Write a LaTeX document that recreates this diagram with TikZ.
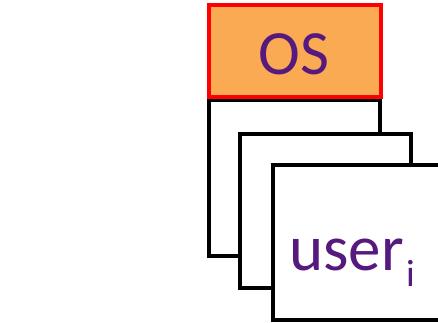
\documentclass[tikz,border=0pt]{standalone}
\usepackage{fontspec}
\setmainfont{Carlito}
\definecolor{osfill}{RGB}{250,170,82}
\definecolor{labelpurple}{RGB}{86,26,126}
\begin{document}
\begin{tikzpicture}[x=1pt,y=-1pt,
  frame/.style={draw=black,line width=4.6pt,fill=white},
  osbox/.style={draw=red,line width=4.6pt,fill=osfill},
  lbl/.style={text=labelpurple,inner sep=0pt}]
\useasboundingbox (0,0) rectangle (438,323);
\begin{scope}
\clip (0,0) rectangle (438,323);
% stacked user address spaces, back to front
\draw[frame] (209,100) rectangle (380,256);
\draw[frame] (240,134) rectangle (411,288);
\draw[frame] (273,165) rectangle (460,320);
% operating system region on top
\draw[osbox] (209,5) rectangle (381,97);
\end{scope}
\node[lbl,anchor=base,font=\fontsize{63}{63}\selectfont] (os) at (294,75) {OS};
\node[lbl,anchor=base west,font=\fontsize{65}{65}\selectfont] (user) at (289,270) {user};
\node[lbl,anchor=base west,font=\fontsize{38}{38}\selectfont] (sub) at (user.base east) [yshift=-16pt,xshift=2pt] {i};
\end{tikzpicture}
\end{document}
